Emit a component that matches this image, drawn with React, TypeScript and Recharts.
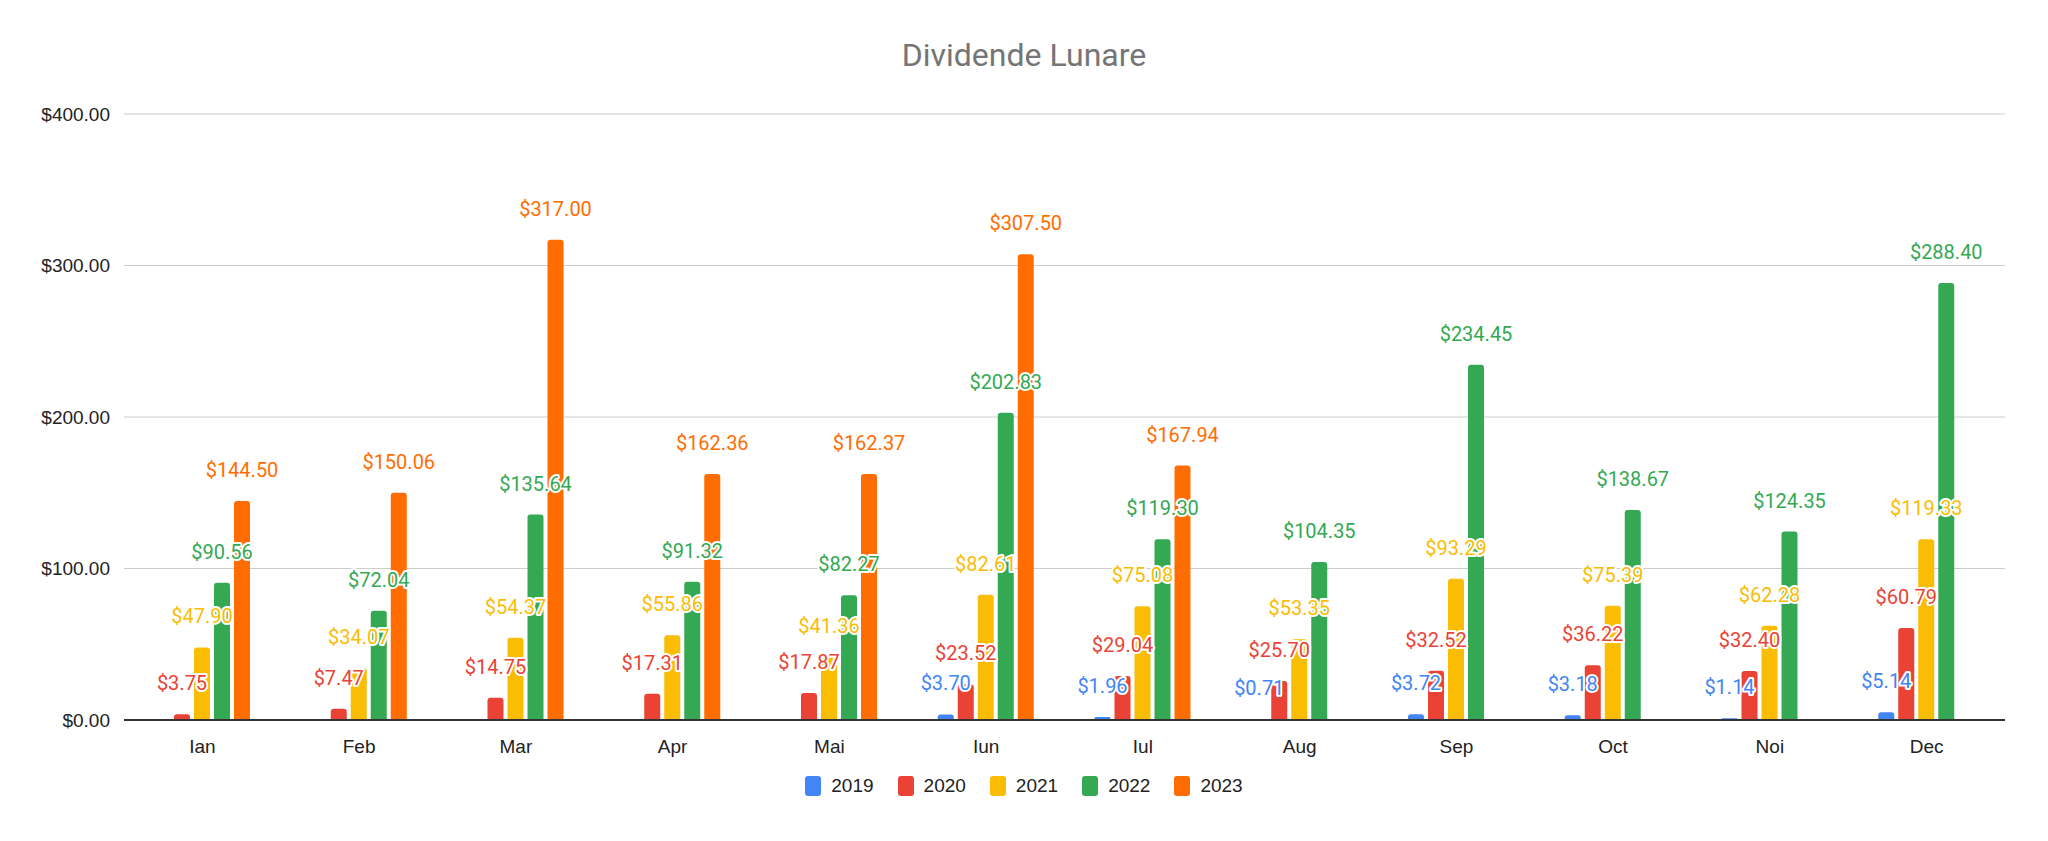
import React from 'react';
import { BarChart, Bar, XAxis, YAxis, CartesianGrid, LabelList } from 'recharts';

const months = ['Ian', 'Feb', 'Mar', 'Apr', 'Mai', 'Iun', 'Iul', 'Aug', 'Sep', 'Oct', 'Noi', 'Dec'];
const y2019 = [null, null, null, null, null, 3.7, 1.96, 0.71, 3.72, 3.18, 1.14, 5.14];
const y2020 = [3.75, 7.47, 14.75, 17.31, 17.87, 23.52, 29.04, 25.7, 32.52, 36.22, 32.4, 60.79];
const y2021 = [47.9, 34.07, 54.37, 55.86, 41.36, 82.61, 75.08, 53.35, 93.29, 75.39, 62.28, 119.33];
const y2022 = [90.56, 72.04, 135.64, 91.32, 82.27, 202.83, 119.3, 104.35, 234.45, 138.67, 124.35, 288.4];
const y2023 = [144.5, 150.06, 317.0, 162.36, 162.37, 307.5, 167.94, null, null, null, null, null];
const yTicks = [0, 100, 200, 300, 400];

const series = [
  { key: 'y2019', name: '2019', color: '#4285f4' },
  { key: 'y2020', name: '2020', color: '#ea4335' },
  { key: 'y2021', name: '2021', color: '#fbbc04' },
  { key: 'y2022', name: '2022', color: '#34a853' },
  { key: 'y2023', name: '2023', color: '#ff6d01' },
];

const data = months.map((m, i) => ({
  month: m,
  y2019: y2019[i],
  y2020: y2020[i],
  y2021: y2021[i],
  y2022: y2022[i],
  y2023: y2023[i],
}));

const fmt = (v: number) => '$' + v.toFixed(2);
const FONT = 'Roboto, Arial, sans-serif';
const AXIS_FONT = 'Arial, "Liberation Sans", sans-serif';

const makeLabel = (color: string) => (props: any) => {
  const { x, y, width, value } = props;
  if (value === null || value === undefined) return null;
  return (
    <text
      x={x + width / 2}
      y={y - 24}
      textAnchor="middle"
      fontSize={20}
      fontFamily={FONT}
      fill={color}
      stroke="#fff"
      strokeWidth={4}
      paintOrder="stroke"
      strokeLinejoin="round"
    >
      {fmt(value)}
    </text>
  );
};

export default function App() {
  return (
    <div style={{ position: 'absolute', left: 0, top: 0, width: 2048, height: 841, background: '#fff', fontFamily: AXIS_FONT }}>
      <div style={{ position: 'absolute', top: 36, width: '100%', textAlign: 'center', fontSize: 32, color: '#757575', fontFamily: FONT }}>
        Dividende Lunare
      </div>
      <BarChart
        width={2048}
        height={841}
        data={data}
        margin={{ top: 114, right: 43, left: 0, bottom: 91 }}
        barGap={4}
        barCategoryGap="25%"
      >
        <CartesianGrid vertical={false} stroke="#cccccc" />
        <XAxis
          dataKey="month"
          tickLine={false}
          axisLine={{ stroke: '#333', strokeWidth: 2 }}
          tick={{ fontSize: 19, fill: '#222', fontFamily: AXIS_FONT }}
          tickMargin={14}
        />
        <YAxis
          width={124}
          domain={[0, 400]}
          ticks={yTicks}
          tickFormatter={fmt}
          axisLine={false}
          tickLine={false}
          tick={{ fontSize: 19, fill: '#222', fontFamily: AXIS_FONT }}
          tickMargin={8}
        />
        {series.map((s) => (
          <Bar key={s.key} dataKey={s.key} name={s.name} fill={s.color} barSize={16} radius={[3, 3, 0, 0]} isAnimationActive={false}>
            <LabelList dataKey={s.key} content={makeLabel(s.color)} />
          </Bar>
        ))}
      </BarChart>
      <div style={{ position: 'absolute', top: 775, width: '100%', display: 'flex', justifyContent: 'center', gap: 24, fontSize: 19, color: '#222' }}>
        {series.map((s) => (
          <div key={s.key} style={{ display: 'flex', alignItems: 'center', gap: 10 }}>
            <span style={{ width: 16, height: 20, background: s.color, borderRadius: 3, display: 'inline-block' }} />
            <span>{s.name}</span>
          </div>
        ))}
      </div>
    </div>
  );
}
